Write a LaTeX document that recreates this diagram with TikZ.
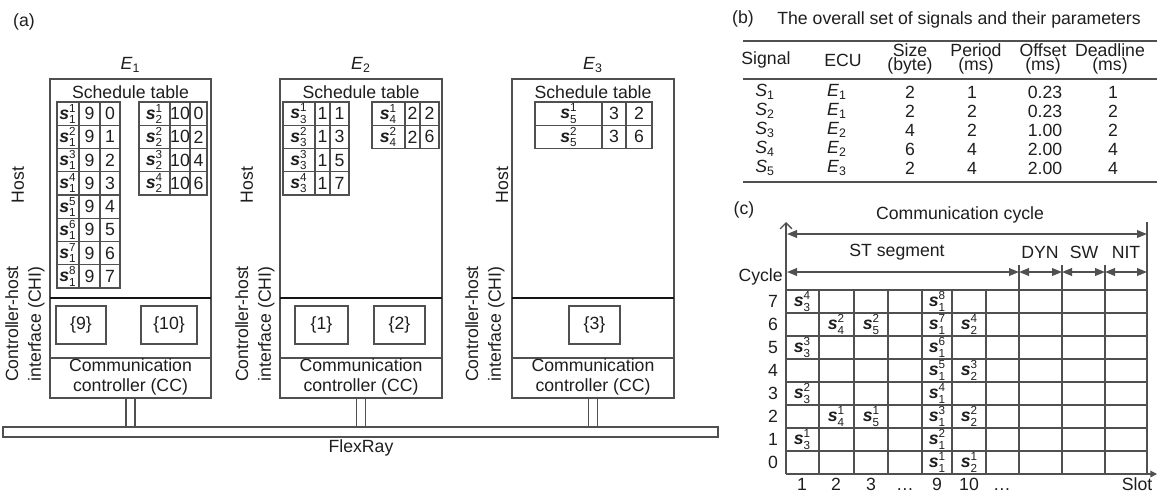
\documentclass[tikz,border=0pt]{standalone}
\usepackage{fontspec}
\setmainfont{Liberation Sans}
\usetikzlibrary{arrows.meta}

\definecolor{frline}{HTML}{505050}
\definecolor{frdark}{HTML}{151515}
\definecolor{frtext}{HTML}{1E1E1E}

\newcommand{\fsz}{\fontsize{10.6}{12}\selectfont}
\newcommand{\sg}[2]{\textbf{\textit{s}}\rlap{\raisebox{0.75ex}{\fontsize{7}{7}\selectfont#2}}\raisebox{-0.45ex}{\fontsize{7}{7}\selectfont#1}}
\newcommand{\ecu}[1]{\textit{E}\textsubscript{#1}}
\newcommand{\sig}[1]{\textit{S}\textsubscript{#1}}

\tikzset{
  ecubox/.style={draw=frline,line width=0.9pt},
  chiline/.style={draw=frdark,line width=1.1pt},
  cell/.style={draw=frline,line width=0.8pt},
  bufbox/.style={draw=frline,line width=1pt,fill=white},
  busbar/.style={draw=frline,line width=0.9pt,fill=white},
  grd/.style={draw=frline,line width=0.8pt},
  rule/.style={draw=frline,line width=1.1pt},
  txt/.style={font=\fsz,text=frtext,inner sep=0pt},
  side/.style={txt,rotate=90,align=center,font=\fontsize{10.6}{13.6}\selectfont},
  twoline/.style={txt,align=center,font=\fontsize{10.6}{6.6}\selectfont},
  seg/.style={frline,line width=1pt,{Triangle[length=6pt,width=4.6pt]}-{Triangle[length=6pt,width=4.6pt]}},
}

\begin{document}
\begin{tikzpicture}[x=0.6pt,y=-0.6pt]
  \useasboundingbox (0,0) rectangle (1157,494);

  % ---- (a) ECUs on the bus
  \node[txt] (pa) at (24,22) {(a)};
  \draw[busbar] (3,427) rectangle (718,437);
  \node[txt] (flexray) at (361,448) {FlexRay};
  \foreach \n/\xl/\xr/\hx/\cx in {1/50/211/18/25, 2/280/442/247/255, 3/512/674/502/485}{
    \pgfmathsetmacro{\xm}{(\xl+\xr)/2}
    \draw[busbar] (\xm-4.5,398) rectangle (\xm+4.5,427);
    \draw[ecubox,fill=white] (\xl,79) rectangle (\xr,398);
    \draw[chiline] (\xl,298) -- (\xr,298);
    \draw[ecubox] (\xl,358) -- (\xr,358);
    \node[txt] (ecu\n) at (\xm,65) {\ecu{\n}};
    \node[txt] (sched\n) at (\xm,92) {Schedule table};
    \node[txt,align=center] (cc\n) at (\xm,377) {Communication\\controller (CC)};
    \node[side] (host\n) at (\hx,185) {Host};
    \node[side] (chi\n) at (\cx,324) {Controller-host\\interface (CHI)};
  }

  % buffers in the CHI
  \foreach \nm/\xl/\xr/\t in {b9/56/106/9, b10/141/197/10, b1/295/348/1, b2/374/425/2, b3/569/620/3}{
    \draw[bufbox] (\xl,306) rectangle (\xr,344);
    \node[txt] (\nm) at ({(\xl+\xr)/2},325) {\{\t\}};
  }

  % E1 schedule table
  \foreach \k in {1,...,8}{
    \pgfmathsetmacro{\yt}{102+(\k-1)*23.25}
    \pgfmathtruncatemacro{\q}{\k-1}
    \draw[cell] (57,\yt) rectangle (79,\yt+23.25) (79,\yt) rectangle (100,\yt+23.25) (100,\yt) rectangle (120,\yt+23.25);
    \node[txt] (ea\k) at (67.5,\yt+11.6) {\sg{1}{\k}};
    \node[txt] (eb\k) at (89.5,\yt+11.6) {9};
    \node[txt] (ec\k) at (110,\yt+11.6) {\q};
  }
  \foreach \k in {1,...,4}{
    \pgfmathsetmacro{\yt}{102+(\k-1)*23.25}
    \pgfmathtruncatemacro{\q}{2*(\k-1)}
    \draw[cell] (139,\yt) rectangle (170,\yt+23.25) (170,\yt) rectangle (190,\yt+23.25) (190,\yt) rectangle (207,\yt+23.25);
    \node[txt] (fa\k) at (154,\yt+11.6) {\sg{2}{\k}};
    \node[txt] (fb\k) at (180,\yt+11.6) {10};
    \node[txt] (fc\k) at (198.5,\yt+11.6) {\q};
  }

  % E2 schedule table
  \foreach \k in {1,...,4}{
    \pgfmathsetmacro{\yt}{102+(\k-1)*23.25}
    \pgfmathtruncatemacro{\q}{2*\k-1}
    \draw[cell] (283,\yt) rectangle (315,\yt+23.25) (315,\yt) rectangle (330,\yt+23.25) (330,\yt) rectangle (349,\yt+23.25);
    \node[txt] (ga\k) at (298.5,\yt+11.6) {\sg{3}{\k}};
    \node[txt] (gb\k) at (322.5,\yt+11.6) {1};
    \node[txt] (gc\k) at (339.5,\yt+11.6) {\q};
  }
  \foreach \k/\q in {1/2, 2/6}{
    \pgfmathsetmacro{\yt}{102+(\k-1)*23.25}
    \draw[cell] (372,\yt) rectangle (405,\yt+23.25) (405,\yt) rectangle (420,\yt+23.25) (420,\yt) rectangle (439,\yt+23.25);
    \node[txt] (ha\k) at (388,\yt+11.6) {\sg{4}{\k}};
    \node[txt] (hb\k) at (412.5,\yt+11.6) {2};
    \node[txt] (hc\k) at (429.5,\yt+11.6) {\q};
  }

  % E3 schedule table
  \foreach \k/\q in {1/2, 2/6}{
    \pgfmathsetmacro{\yt}{102+(\k-1)*23.25}
    \draw[cell] (535,\yt) rectangle (602,\yt+23.25) (602,\yt) rectangle (626,\yt+23.25) (626,\yt) rectangle (652,\yt+23.25);
    \node[txt] (ka\k) at (568.5,\yt+11.6) {\sg{5}{\k}};
    \node[txt] (kb\k) at (614,\yt+11.6) {3};
    \node[txt] (kc\k) at (639,\yt+11.6) {\q};
  }

  % ---- (b) signal parameters
  \node[txt] (pb) at (743,19) {(b)};
  \node[txt,anchor=west] (title) at (777,20) {The overall set of signals and their parameters};
  \draw[rule] (743,41) -- (1157,41);
  \draw[grd] (743,79) -- (1157,79);
  \draw[rule] (743,182) -- (1157,182);
  \node[txt] (hsig) at (766,60) {Signal};
  \node[txt] (hecu) at (843,60) {ECU};
  \node[twoline] (hsize) at (910,59) {Size\\(byte)};
  \node[twoline] (hper) at (976,59) {Period\\(ms)};
  \node[twoline] (hoff) at (1043,59) {Offset\\(ms)};
  \node[twoline] (hdl) at (1110,59) {Deadline\\(ms)};
  \foreach \i/\e/\sz/\pe/\of/\dl in {1/1/2/1/0.23/1, 2/1/2/2/0.23/2, 3/2/4/2/1.00/2, 4/2/6/4/2.00/4, 5/3/2/4/2.00/4}{
    \pgfmathsetmacro{\yr}{92+(\i-1)*19}
    \node[txt] (rs\i) at (765,\yr) {\sig{\i}};
    \node[txt] (re\i) at (837,\yr) {\ecu{\e}};
    \node[txt] (rz\i) at (910,\yr) {\sz};
    \node[txt] (rp\i) at (972,\yr) {\pe};
    \node[txt] (ro\i) at (1045,\yr) {\of};
    \node[txt] (rd\i) at (1113,\yr) {\dl};
  }

  % ---- (c) slot / cycle grid
  \node[txt] (pc) at (744,210) {(c)};
  \foreach \i in {0,...,7}
    \draw[grd] (786,{290+\i*23}) -- (1147,{290+\i*23});
  \foreach \x in {819,854,888,922,952,986}
    \draw[grd] (\x,290) -- (\x,474);
  \foreach \x in {1019,1062,1105}
    \draw[grd] (\x,265) -- (\x,474);
  \draw[grd] (1147,222) -- (1147,474);
  \coordinate (org) at (786,474);
  \coordinate (ytop) at (786,222);
  \coordinate (xend) at (1157,474);
  \draw[grd,-{Straight Barb[length=3.5pt,width=7pt]}] (org) -- (ytop);
  \draw[grd,-{Triangle[length=4pt,width=4pt]}] (org) -- (xend);

  \node[txt] (commcyc) at (960,215) {Communication cycle};
  \coordinate (cc0) at (787,234);
  \coordinate (cc1) at (1147,234);
  \draw[seg] (cc0) -- (cc1);
  \node[txt] (stseg) at (897,252) {ST segment};
  \node[txt] (dyn) at (1040,252) {DYN};
  \node[txt] (sw) at (1084,252) {SW};
  \node[txt] (nit) at (1126,252) {NIT};
  \foreach \nm/\x in {s0/787, s1/1019, s2/1062, s3/1105, s4/1147}
    \coordinate (\nm) at (\x,272);
  \draw[seg] (s0) -- (s1);
  \draw[seg] (s1) -- (s2);
  \draw[seg] (s2) -- (s3);
  \draw[seg] (s3) -- (s4);
  \node[txt,anchor=east] (cyc) at (783,277) {Cycle};
  \foreach \r in {0,...,7}
    \node[txt] (cy\r) at (773,{290+(7-\r)*23+11.5}) {\r};
  \foreach \nm/\x/\t in {c1/802/1, c2/836/2, c3/871/3, c4/905/\ldots, c9/937/9, c10/969/10, c11/1002/\ldots}
    \node[txt,anchor=base] (\nm) at (\x,490) {\t};
  \node[txt,anchor=base] (slot) at (1137,490) {Slot};
  \foreach \x/\r/\u/\v in {802/7/3/4, 937/7/1/8, 836/6/4/2, 871/6/5/2, 937/6/1/7, 969/6/2/4,
                           802/5/3/3, 937/5/1/6, 937/4/1/5, 969/4/2/3, 802/3/3/2, 937/3/1/4,
                           836/2/4/1, 871/2/5/1, 937/2/1/3, 969/2/2/2, 802/1/3/1, 937/1/1/2,
                           937/0/1/1, 969/0/2/1}
    \node[txt] (g\r-\x) at (\x,{290+(7-\r)*23+11.5}) {\sg{\u}{\v}};
\end{tikzpicture}
\end{document}
